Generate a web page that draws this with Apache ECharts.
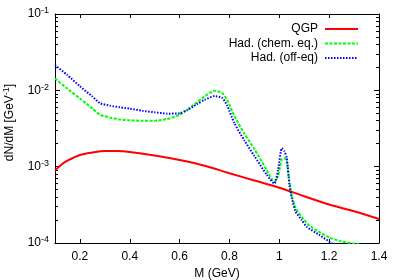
<!DOCTYPE html>
<html>
<head>
<meta charset="utf-8">
<script src="https://cdn.jsdelivr.net/npm/echarts@6/dist/echarts.min.js"></script>
<style>html,body{margin:0;padding:0;background:#fff}#c{width:400px;height:280px}</style>
</head>
<body>
<div id="c"></div>
<script>
// ---- data ----
const seriesNames = ['QGP', 'Had. (chem. eq.)', 'Had. (off-eq)'];

const massQGP = [0.1, 0.125, 0.15, 0.2, 0.25, 0.3, 0.35, 0.4, 0.5, 0.6, 0.7, 0.8, 0.9, 1.0, 1.1, 1.2, 1.3, 1.4];
const valQGP  = [8.9e-4, 1.06e-3, 1.2e-3, 1.42e-3, 1.53e-3, 1.6e-3, 1.6e-3, 1.56e-3, 1.4e-3, 1.22e-3, 1.03e-3, 8.2e-4, 6.6e-4, 5.3e-4, 4.1e-4, 3.2e-4, 2.6e-4, 2.06e-4];

const massChem = [0.1, 0.15, 0.2, 0.25, 0.28, 0.32, 0.36, 0.4, 0.45, 0.5, 0.55, 0.6, 0.65, 0.7, 0.74, 0.77, 0.79, 0.82, 0.86, 0.9, 0.95, 0.98, 0.995, 1.01, 1.02, 1.03, 1.04, 1.05, 1.065, 1.09, 1.12, 1.16, 1.2, 1.25, 1.3, 1.35, 1.4];
const valChem  = [1.43e-2, 1.05e-2, 7.8e-3, 5.8e-3, 4.8e-3, 4.4e-3, 4.15e-3, 4.05e-3, 4.0e-3, 4.0e-3, 4.2e-3, 4.8e-3, 6.2e-3, 8.3e-3, 9.9e-3, 9.3e-3, 7.6e-3, 4.6e-3, 2.7e-3, 1.7e-3, 9.0e-4, 6.3e-4, 7.5e-4, 1.25e-3, 1.3e-3, 1.15e-3, 6.5e-4, 4.2e-4, 2.9e-4, 2.2e-4, 1.7e-4, 1.4e-4, 1.18e-4, 1.05e-4, 9.8e-5, 9.3e-5, 9.0e-5];

const massOff = [0.1, 0.15, 0.2, 0.25, 0.28, 0.32, 0.36, 0.4, 0.45, 0.5, 0.55, 0.6, 0.63, 0.67, 0.7, 0.74, 0.77, 0.79, 0.82, 0.86, 0.9, 0.95, 0.98, 0.995, 1.01, 1.02, 1.03, 1.04, 1.05, 1.065, 1.09, 1.11, 1.16, 1.21, 1.25, 1.3];
const valOff  = [2.15e-2, 1.58e-2, 1.13e-2, 8.3e-3, 6.8e-3, 6.3e-3, 6.0e-3, 5.75e-3, 5.4e-3, 5.15e-3, 4.95e-3, 5.0e-3, 5.5e-3, 6.6e-3, 7.5e-3, 8.4e-3, 8.0e-3, 6.4e-3, 3.7e-3, 2.2e-3, 1.38e-3, 7.8e-4, 6.0e-4, 9.0e-4, 1.75e-3, 1.6e-3, 1.3e-3, 6.0e-4, 3.9e-4, 2.6e-4, 2.0e-4, 1.63e-4, 1.28e-4, 1.0e-4, 8.8e-5, 7.5e-5];

const xTicks = [0.2, 0.4, 0.6, 0.8, 1.0, 1.2, 1.4];
const yMajorExp = [-4, -3, -2, -1];
const yMinorLog = [];
for (const e of [-4, -3, -2]) for (let k = 2; k <= 9; k++) yMinorLog.push(e + Math.log10(k));

// ---- chart ----
const FONT = 'Liberation Sans';
const chart = echarts.init(document.getElementById('c'), null, {renderer: 'canvas'});
const pairs = (xs, ys) => xs.map((x, i) => [x, ys[i]]);
const axisLine = {show: true, lineStyle: {color: '#000', width: 1}};

chart.setOption({
  animation: false,
  backgroundColor: '#fff',
  textStyle: {fontFamily: FONT},
  grid: {left: 55, right: 21, top: 14, bottom: 37, containLabel: false, outerBoundsMode: 'none'},
  legend: {
    orient: 'vertical', right: 36, top: 18, align: 'right',
    itemWidth: 33, itemHeight: 12, itemGap: 2.5,
    itemStyle: {opacity: 0},
    textStyle: {fontFamily: FONT, fontSize: 12, color: '#000', padding: [0, 2, 0, 0]},
    data: seriesNames
  },
  xAxis: [
    {type: 'value', position: 'bottom', min: 0.1, max: 1.4,
     name: 'M (GeV)', nameLocation: 'middle', nameGap: 24,
     nameTextStyle: {fontFamily: FONT, fontSize: 12, color: '#000'},
     axisLine: axisLine, splitLine: {show: false},
     axisTick: {inside: true, length: 4, customValues: xTicks, lineStyle: {color: '#000'}},
     axisLabel: {customValues: xTicks, fontFamily: FONT, fontSize: 12, color: '#000', margin: 8}},
    {type: 'value', position: 'top', min: 0.1, max: 1.4,
     axisLine: axisLine, splitLine: {show: false},
     axisTick: {inside: true, length: 4, customValues: xTicks, lineStyle: {color: '#000'}},
     axisLabel: {show: false}}
  ],
  yAxis: [
    {type: 'log', logBase: 10, position: 'left', min: 1e-4, max: 1e-1,
     name: 'dN/dM [GeV{s|-1}]', nameLocation: 'middle', nameGap: 38,
     nameTextStyle: {fontFamily: FONT, fontSize: 12, color: '#000', padding: [0, 0, 0, 12],
       rich: {s: {fontFamily: FONT, fontSize: 9, color: '#000', verticalAlign: 'top', padding: [0, 0, 6, 0]}}},
     axisLine: axisLine, splitLine: {show: false}, minorTick: {show: false},
     axisTick: {inside: true, length: 5, lineStyle: {color: '#000'}},
     axisLabel: {margin: 6, color: '#000',
       formatter: v => '{b|10}{s|' + Math.round(Math.log10(v)) + '}',
       rich: {b: {fontFamily: FONT, fontSize: 12, color: '#000'},
              s: {fontFamily: FONT, fontSize: 9, color: '#000', verticalAlign: 'top', padding: [0, 0, 6, 0]}}}},
    {type: 'value', position: 'left', min: -4, max: -1,
     axisLine: {show: false}, splitLine: {show: false}, axisLabel: {show: false},
     axisTick: {inside: true, length: 3, customValues: yMinorLog, lineStyle: {color: '#000'}}},
    {type: 'value', position: 'right', min: -4, max: -1,
     axisLine: axisLine, splitLine: {show: false}, axisLabel: {show: false},
     axisTick: {inside: true, length: 3, customValues: yMinorLog, lineStyle: {color: '#000'}}},
    {type: 'value', position: 'right', min: -4, max: -1,
     axisLine: {show: false}, splitLine: {show: false}, axisLabel: {show: false},
     axisTick: {inside: true, length: 5, customValues: yMajorExp, lineStyle: {color: '#000'}}}
  ],
  series: [
    {name: seriesNames[0], type: 'line', xAxisIndex: 0, yAxisIndex: 0, showSymbol: false, symbol: 'none',
     smooth: 0.3, clip: true, data: pairs(massQGP, valQGP),
     lineStyle: {color: '#ff0000', width: 2}, itemStyle: {color: '#ff0000'}},
    {name: seriesNames[1], type: 'line', xAxisIndex: 0, yAxisIndex: 0, showSymbol: false, symbol: 'none',
     smooth: 0.2, clip: true, data: pairs(massChem, valChem),
     lineStyle: {color: '#00ff00', width: 2, type: [3, 1.5]}, itemStyle: {color: '#00ff00'}},
    {name: seriesNames[2], type: 'line', xAxisIndex: 0, yAxisIndex: 0, showSymbol: false, symbol: 'none',
     smooth: 0.2, clip: true, data: pairs(massOff, valOff),
     lineStyle: {color: '#0000ff', width: 2, type: [1.5, 1.5]}, itemStyle: {color: '#0000ff'}}
  ]
});
</script>
</body>
</html>
